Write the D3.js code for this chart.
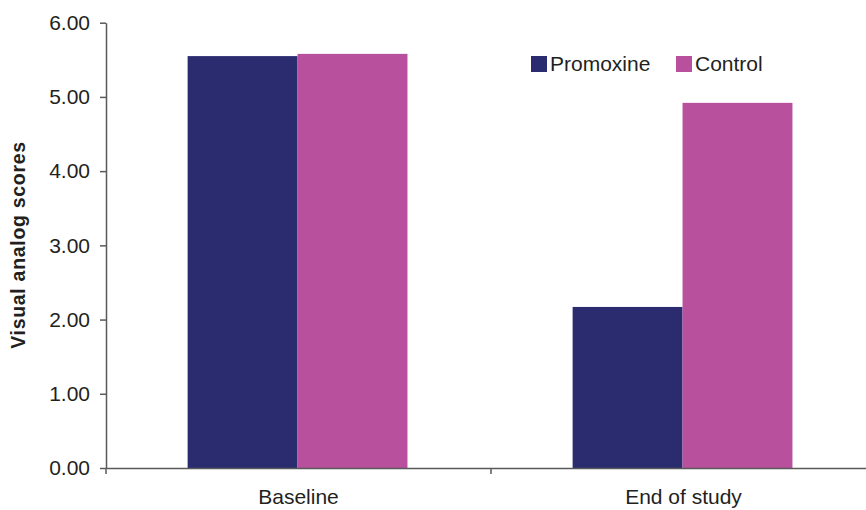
<!DOCTYPE html>
<html>
<head>
<meta charset="utf-8">
<script src="https://cdn.jsdelivr.net/npm/d3@7"></script>
<style>
  html, body { margin: 0; padding: 0; background: #fff; }
  svg { display: block; font-family: "Liberation Sans", Arial, Helvetica, sans-serif; }
</style>
</head>
<body>
<svg id="chart" width="866" height="510"></svg>
<script>
const categories = ["Baseline", "End of study"];
const seriesNames = ["Promoxine", "Control"];
const promoxine = [5.55, 2.17];
const control = [5.58, 4.92];
const yTicks = [0, 1, 2, 3, 4, 5, 6];
const colors = ["#2b2c6f", "#b8509e"];

const svg = d3.select("#chart");
const mLeft = 106, mRight = 876, mTop = 22.7, mBottom = 468;

const x0 = d3.scaleBand().domain(categories).range([mLeft, mRight]).padding(0);
const x1 = d3.scaleBand().domain(seriesNames)
  .range([x0.bandwidth() * 0.212, x0.bandwidth() * 0.783]).padding(0);
const y = d3.scaleLinear().domain([0, 6]).range([mBottom, mTop]);

const data = categories.map((c, i) => ({ cat: c, values: [
  { s: seriesNames[0], v: promoxine[i] },
  { s: seriesNames[1], v: control[i] }
]}));

const color = d3.scaleOrdinal().domain(seriesNames).range(colors);

// bars
const g = svg.append("g");
g.selectAll("g.cat").data(data).join("g")
  .attr("class", "cat")
  .attr("transform", d => `translate(${x0(d.cat)},0)`)
  .selectAll("rect").data(d => d.values).join("rect")
  .attr("x", d => x1(d.s))
  .attr("width", x1.bandwidth())
  .attr("y", d => y(d.v))
  .attr("height", d => y(0) - y(d.v))
  .attr("fill", d => color(d.s));

const axisColor = "#5a5a5a";
const textColor = "#231f20";
const fs = 21;

// y axis
const yAxis = svg.append("g").attr("transform", `translate(${mLeft},0)`)
  .call(d3.axisLeft(y).tickValues(yTicks).tickFormat(d3.format(".2f")).tickSize(6).tickSizeOuter(0).tickPadding(10));
yAxis.select(".domain").attr("stroke", axisColor).attr("stroke-width", 1.5);
yAxis.selectAll(".tick line").attr("stroke", axisColor).attr("stroke-width", 1.5);
yAxis.selectAll(".tick text").attr("font-size", fs).attr("fill", textColor)
  .attr("font-family", "'Liberation Sans', Arial, sans-serif");

// x axis
const xAxis = svg.append("g").attr("transform", `translate(0,${mBottom})`)
  .call(d3.axisBottom(x0).tickSize(0).tickSizeOuter(0).tickPadding(21));
xAxis.select(".domain").attr("stroke", axisColor).attr("stroke-width", 1.5);
xAxis.selectAll(".tick text").attr("font-size", fs).attr("fill", textColor)
  .attr("font-family", "'Liberation Sans', Arial, sans-serif");
// boundary ticks between categories
xAxis.selectAll("line.bt").data(categories).join("line")
  .attr("class", "bt")
  .attr("x1", d => x0(d)).attr("x2", d => x0(d))
  .attr("y1", 0).attr("y2", 6)
  .attr("stroke", axisColor).attr("stroke-width", 1.5);

// y title
svg.append("text")
  .attr("transform", `translate(25,245) rotate(-90)`)
  .attr("text-anchor", "middle")
  .attr("font-size", 19.5)
  .attr("font-weight", "bold")
  .attr("fill", textColor)
  .attr("letter-spacing", 0.7)
  .text("Visual analog scores");

// legend
const legendX = [531, 676];
const lg = svg.append("g");
seriesNames.forEach((s, i) => {
  lg.append("rect").attr("x", legendX[i]).attr("y", 56).attr("width", 16).attr("height", 16).attr("fill", color(s));
  lg.append("text").attr("x", legendX[i] + 19).attr("y", 70.5)
    .attr("font-size", fs).attr("fill", textColor).text(s);
});
</script>
</body>
</html>
